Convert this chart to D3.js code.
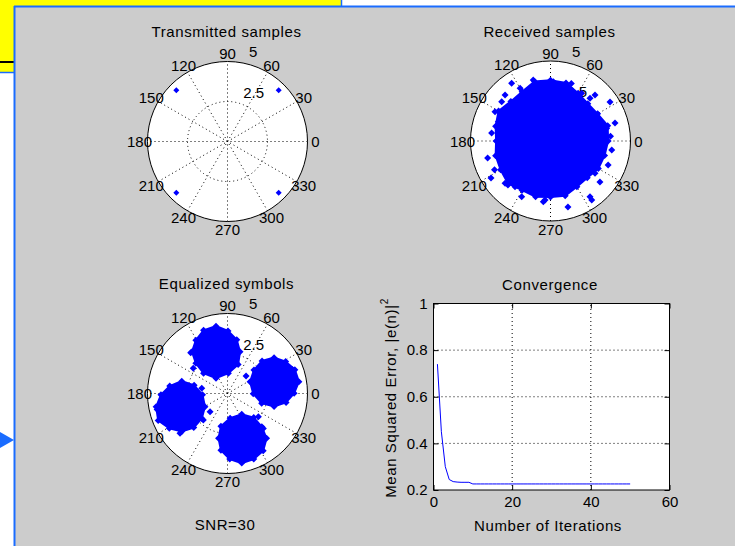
<!DOCTYPE html>
<html>
<head>
<meta charset="utf-8">
<script src="https://cdn.jsdelivr.net/npm/d3@7"></script>
<style>
  body { margin: 0; background: #fff; }
  svg { display: block; font-family: "Liberation Sans", Arial, sans-serif; font-size: 15px; }
  .words { letter-spacing: 0.6px; }
</style>
</head>
<body>
<div id="chart"></div>
<script>
// polar grid
const angleTicks = [0, 30, 60, 90, 120, 150, 180, 210, 240, 270, 300, 330];
const ringTicks = [2.5, 5];

// transmitted QPSK samples (re, im)
const txRe = [3.2, -3.2, -3.2, 3.2];
const txIm = [3.2, 3.2, -3.2, -3.2];

// received samples: dense core extent (radius per angle) + stray samples
const rxAngles = [0, 15, 30, 45, 60, 75, 90, 105, 120, 135, 150, 165, 180, 195, 210, 225, 240, 255, 270, 285, 300, 315, 330, 345];
const rxCore = [3.6, 3.7, 3.4, 3.3, 3.45, 3.75, 3.8, 3.85, 3.55, 3.5, 3.75, 3.55, 3.4, 3.55, 3.6, 3.75, 3.55, 3.6, 3.5, 3.55, 3.3, 3.25, 3.45, 3.5];
const rxStray = [
  [-2.43, 3.61], [-1.08, 3.81], [0.18, 3.71], [-3.05, 2.46], [2.78, 2.88], [3.72, 2.44],
  [4.03, 1.13], [-3.68, 0.5], [-3.93, -1.06], [-3.72, -2.31], [3.09, -2.56], [-2.66, -2.75],
  [-0.34, -3.69], [1.09, -4.13], [2.58, -3.69], [-1.8, -3.48], [1.95, 2.98], [2.47, 2.67],
  [-2.84, -2.64], [-2.22, -2.86], [-0.45, -3.79], [2.47, -3.48], [2.78, -2.02], [3.83, -0.56],
  [3.51, 0.79], [-3.26, 1.21], [-3.47, 1.83], [-2.84, 2.88], [3.6, -1.5], [-3.5, -1.8],
  [1.3, 3.6], [-1.9, 3.3], [3.75, 0.3]
];

// equalized symbols: four clusters, centre + extent per angle + stray samples
const eqAngles = [0, 30, 60, 90, 120, 150, 180, 210, 240, 270, 300, 330];
const eqCentres = [[-0.72, 2.61], [2.91, 0.74], [-2.86, -0.83], [0.89, -2.8]];
const eqCore = [
  [1.5, 1.5, 1.5, 1.6, 1.55, 1.45, 1.5, 1.45, 1.55, 1.65, 1.55, 1.6],
  [1.55, 1.5, 1.45, 1.5, 1.5, 1.45, 1.5, 1.5, 1.55, 1.55, 1.5, 1.45],
  [1.45, 1.5, 1.55, 1.6, 1.5, 1.5, 1.6, 1.7, 1.55, 1.55, 1.5, 1.45],
  [1.55, 1.45, 1.5, 1.5, 1.45, 1.5, 1.45, 1.5, 1.5, 1.55, 1.5, 1.55]
];
const eqStray = [
  [-2.14, 1.58], [-2.3, 2.55], [1.16, 1.09], [4.05, 1.5], [-1.09, -1.14], [-1.61, 0.33],
  [-2.97, -2.49], [-1.51, -1.66], [-4.4, -1.0], [2.24, -2.18], [1.93, -1.45]
];

// convergence curve
const mseValues = [
  0.74, 0.45, 0.30, 0.245, 0.236, 0.234, 0.233, 0.233, 0.233, 0.226,
  0.226, 0.226, 0.226, 0.226, 0.226, 0.226, 0.226, 0.226, 0.226, 0.226,
  0.226, 0.226, 0.226, 0.226, 0.226, 0.226, 0.226, 0.226, 0.226, 0.226,
  0.226, 0.226, 0.226, 0.226, 0.226, 0.226, 0.226, 0.226, 0.226, 0.226,
  0.226, 0.226, 0.226, 0.226, 0.226, 0.226, 0.226, 0.226, 0.226, 0.226
];
const xTicks = [0, 20, 40, 60];
const yTicks = [0.2, 0.4, 0.6, 0.8, 1];

const width = 735, height = 546;
const R = 80;
const blue = "#0000ff";
const edge = "#1a6cff";

const svg = d3.select("#chart").append("svg")
  .attr("width", width)
  .attr("height", height);

// window decoration around the figure
svg.append("rect").attr("x", 0).attr("y", 0).attr("width", 341).attr("height", 73).attr("fill", "#ffff00");
svg.append("line").attr("x1", 0).attr("x2", 14).attr("y1", 62).attr("y2", 62).attr("stroke", "#000").attr("stroke-width", 2);
svg.append("line").attr("x1", 0).attr("x2", 14).attr("y1", 72.5).attr("y2", 72.5).attr("stroke", edge).attr("stroke-width", 1.5);
svg.append("line").attr("x1", 341.5).attr("x2", 341.5).attr("y1", 0).attr("y2", 7).attr("stroke", edge).attr("stroke-width", 1.5);
svg.append("rect").attr("x", 15).attr("y", 7).attr("width", width - 15).attr("height", height - 7).attr("fill", "#cccccc");
svg.append("line").attr("x1", 14).attr("x2", width).attr("y1", 6.5).attr("y2", 6.5).attr("stroke", edge).attr("stroke-width", 2);
svg.append("line").attr("x1", 14.5).attr("x2", 14.5).attr("y1", 6).attr("y2", height).attr("stroke", edge).attr("stroke-width", 2);
svg.append("path").attr("d", "M0,432L14,440L0,448Z").attr("fill", edge);

const diamond = s => `m0,${-s}l${s},${s}l${-s},${s}l${-s},${-s}z`;
const rad = a => a * Math.PI / 180;

function polar(cx, cy, title) {
  const x = d3.scaleLinear().domain([-5, 5]).range([cx - R, cx + R]);
  const y = d3.scaleLinear().domain([-5, 5]).range([cy + R, cy - R]);
  const g = svg.append("g");

  g.append("circle").attr("cx", x(0)).attr("cy", y(0)).attr("r", x(5) - x(0)).attr("fill", "#fff");

  // spokes
  g.selectAll(".spoke").data(angleTicks.slice(1, 7)).join("line")
    .attr("x1", a => x(-5 * Math.cos(rad(a)))).attr("y1", a => y(-5 * Math.sin(rad(a))))
    .attr("x2", a => x(5 * Math.cos(rad(a)))).attr("y2", a => y(5 * Math.sin(rad(a))))
    .attr("stroke", "#000").attr("stroke-dasharray", "1,3");

  // rings
  g.selectAll(".ring").data(ringTicks).join("circle")
    .attr("cx", x(0)).attr("cy", y(0))
    .attr("r", d => x(d) - x(0))
    .attr("fill", "none")
    .attr("stroke", "#000")
    .attr("stroke-dasharray", (d, i) => i === ringTicks.length - 1 ? null : "1,3");

  g.selectAll(".rlab").data(ringTicks).join("text")
    .attr("x", d => x(d * 1.025 * Math.cos(rad(82))) + 10)
    .attr("y", d => y(d * 1.025 * Math.sin(rad(82))) - 3)
    .text(d => d);

  g.selectAll(".alab").data(angleTicks).join("text")
    .attr("x", a => x(5.5 * Math.cos(rad(a))))
    .attr("y", a => y(5.5 * Math.sin(rad(a))))
    .attr("text-anchor", "middle")
    .attr("dominant-baseline", "central")
    .text(a => a);

  g.append("text").attr("class", "words").attr("x", cx - 1).attr("y", cy - 110)
    .attr("text-anchor", "middle").attr("dominant-baseline", "central")
    .text(title);

  return { g, x, y };
}

function strays(p, pts, s) {
  p.g.append("g").selectAll("path").data(pts).join("path")
    .attr("transform", d => `translate(${p.x(d[0])},${p.y(d[1])})`)
    .attr("d", diamond(s))
    .attr("fill", blue);
}

function core(p, centre, angles, radii) {
  const pts = angles.map((a, i) => [centre[0] + radii[i] * Math.cos(rad(a)), centre[1] + radii[i] * Math.sin(rad(a))]);
  p.g.append("path")
    .attr("d", d3.line().x(d => p.x(d[0])).y(d => p.y(d[1])).curve(d3.curveLinearClosed)(pts))
    .attr("fill", blue).attr("stroke", blue).attr("stroke-width", 2);
  strays(p, pts, 3.5);
}

// Transmitted samples
const tx = polar(227.5, 141.5, "Transmitted samples");
strays(tx, txRe.map((re, i) => [re, txIm[i]]), 3);

// Received samples
const rx = polar(550.5, 141, "Received samples");
core(rx, [0, 0], rxAngles, rxCore);
strays(rx, rxStray, 3.5);

// Equalized symbols
const eq = polar(227.5, 393.5, "Equalized symbols");
eqCentres.forEach((c, i) => core(eq, c, eqAngles, eqCore[i]));
strays(eq, eqStray, 3.5);

svg.append("text").attr("class", "words").attr("x", 225).attr("y", 524)
  .attr("text-anchor", "middle").attr("dominant-baseline", "central")
  .text("SNR=30");

// Convergence
const x = d3.scaleLinear().domain([0, 60]).range([433.5, 669.5]);
const y = d3.scaleLinear().domain([0.2, 1]).range([490, 303.5]);
const conv = svg.append("g");

conv.append("rect").attr("x", x(0)).attr("y", y(1))
  .attr("width", x(60) - x(0)).attr("height", y(0.2) - y(1)).attr("fill", "#fff");

conv.selectAll(".gx").data(xTicks.slice(1, -1)).join("line")
  .attr("x1", d => x(d)).attr("x2", d => x(d)).attr("y1", y(0.2)).attr("y2", y(1))
  .attr("stroke", "#000").attr("stroke-dasharray", "1,3");
conv.selectAll(".gy").data(yTicks.slice(1, -1)).join("line")
  .attr("y1", d => y(d)).attr("y2", d => y(d)).attr("x1", x(0)).attr("x2", x(60))
  .attr("stroke", "#000").attr("stroke-dasharray", "1,3");

conv.append("path")
  .datum(mseValues)
  .attr("d", d3.line().x((d, i) => x(i + 1)).y(d => y(d)))
  .attr("fill", "none").attr("stroke", blue).attr("stroke-width", 1);

const ax = (gen, tx) => conv.append("g").attr("transform", tx).call(gen)
  .call(g => g.select(".domain").remove())
  .call(g => g.selectAll("text").attr("fill", "#000").attr("font-size", 15).attr("font-family", null))
  .call(g => g.selectAll("line").attr("stroke", "#000"));

ax(d3.axisBottom(x).tickValues(xTicks).tickSize(-5).tickPadding(6).tickFormat(d3.format("d")), `translate(0,${y(0.2)})`);
ax(d3.axisTop(x).tickValues(xTicks).tickSize(-5).tickFormat(""), `translate(0,${y(1)})`);
ax(d3.axisLeft(y).tickValues(yTicks).tickSize(-5).tickPadding(6).tickFormat(d => d), `translate(${x(0)},0)`);
ax(d3.axisRight(y).tickValues(yTicks).tickSize(-5).tickFormat(""), `translate(${x(60)},0)`);

conv.append("rect").attr("x", x(0)).attr("y", y(1))
  .attr("width", x(60) - x(0)).attr("height", y(0.2) - y(1))
  .attr("fill", "none").attr("stroke", "#000");

conv.append("text").attr("class", "words").attr("x", 550).attr("y", 284)
  .attr("text-anchor", "middle").attr("dominant-baseline", "central")
  .text("Convergence");
conv.append("text").attr("class", "words").attr("x", 548).attr("y", 525)
  .attr("text-anchor", "middle").attr("dominant-baseline", "central")
  .text("Number of Iterations");

const yl = conv.append("text").attr("class", "words")
  .attr("transform", "translate(390,398) rotate(-90)")
  .attr("text-anchor", "middle").attr("dominant-baseline", "central");
yl.append("tspan").text("Mean Squared Error, |e(n)|");
yl.append("tspan").attr("font-size", 10).attr("dy", -6).text("2");
</script>
</body>
</html>
